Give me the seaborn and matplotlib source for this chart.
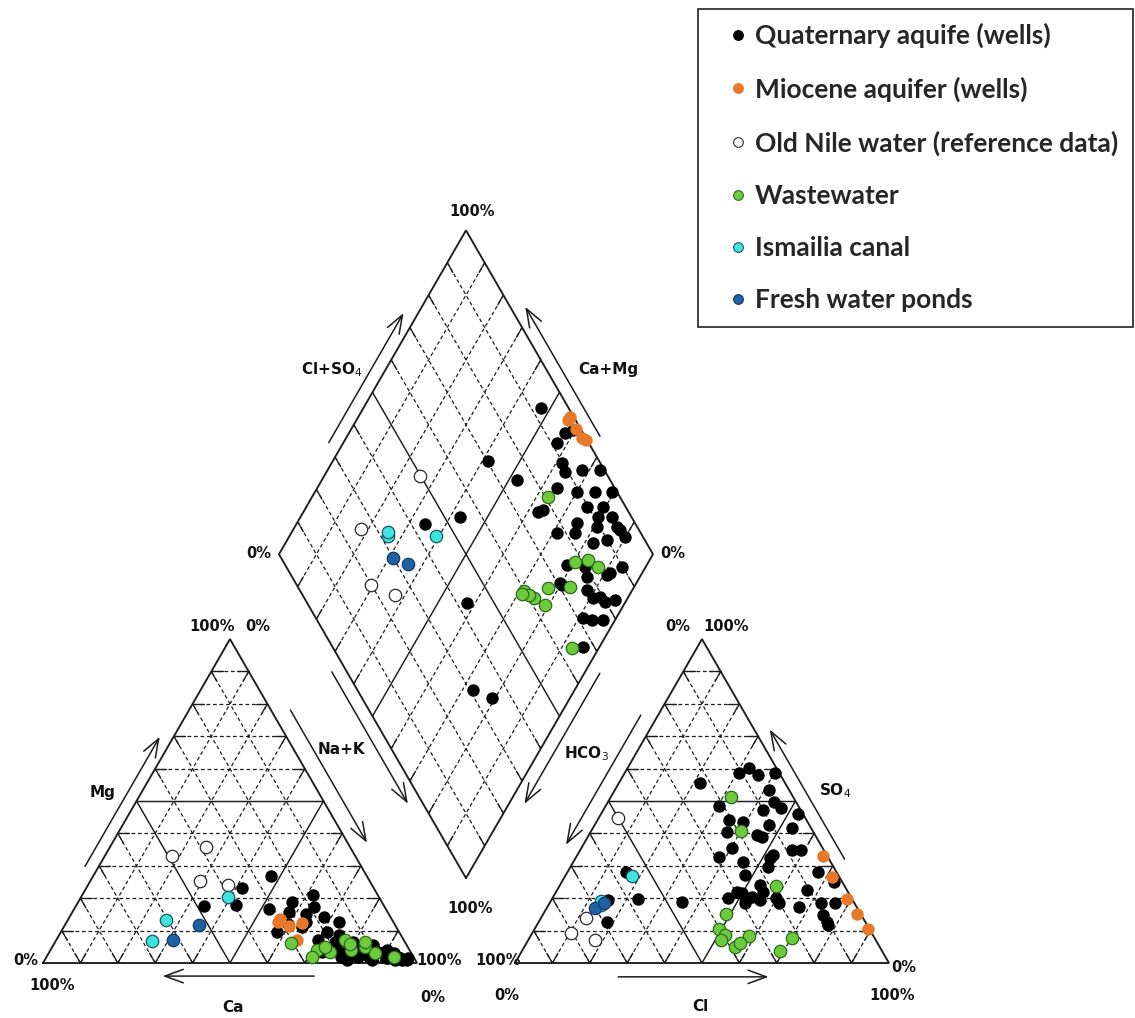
import numpy as np
import pandas as pd
import matplotlib
matplotlib.use("Agg")
import matplotlib.pyplot as plt
from matplotlib.lines import Line2D
from matplotlib.patches import Rectangle
import seaborn as sns

sns.set_theme(style="white")
plt.rcParams["font.family"] = ["DejaVu Sans"]

# ---------------- sample chemistry (meq %) ----------------
# cations: Ca, Mg (Na+K = remainder); anions: SO4, Cl (HCO3 = remainder)
quat_ca = [25.6, 35.3, 31.1, 24.0, 26.5, 28.5, 17.4, 18.9, 17.8, 23.7, 22.8, 18.6, 18.7,
           23.2, 22.1, 25.2, 19.9, 14.6, 16.4, 14.7, 11.8, 16.5, 18.3, 19.2, 19.3, 8.9,
           12.9, 6.1, 19.4, 5.3, 10.1, 7.6, 13.9, 8.7, 4.5, 1.6, 6.8, 5.9, 4.2, 2.3, 3.4,
           39.3, 48.1, 32.6, 14.5, 17.8, 7.1, 17.1, 3.9, 11.6, 13.1]
quat_mg = [26.9, 23.2, 16.7, 18.8, 15.7, 12.0, 21.0, 17.3, 14.2, 3.4, 7.1, 6.5, 1.9,
           12.7, 15.1, 11.0, 5.0, 6.0, 4.0, 2.0, 2.0, 8.6, 0.9, 4.9, 9.6, 5.6,
           4.9, 4.0, 1.9, 1.0, 4.0, 1.5, 6.5, 3.4, 3.1, 1.5, 2.5, 3.0, 2.0, 0.9, 1.0,
           18.0, 17.5, 9.6, 12.7, 3.0, 1.5, 2.5, 1.5, 0.9, 3.1]
quat_so4 = [60.2, 21.9, 27.2, 34.9, 47.9, 25.0, 14.8, 42.6, 49.7, 58.7, 22.5, 58.0, 46.0,
            17.3, 35.5, 55.6, 11.7, 34.9, 18.5, 41.7, 53.4, 39.5, 58.7, 29.6, 24.1, 47.2,
            33.3, 28.1, 19.5, 12.7, 48.5, 32.4, 18.5, 40.4, 44.1, 43.5, 21.9, 21.6, 20.4,
            31.2, 20.0, 18.8, 28.1, 19.8, 12.7, 19.4, 38.9, 32.7, 20.1, 18.5, 18.5]
quat_cl = [32.4, 48.3, 47.9, 56.6, 47.3, 72.8, 74.9, 46.5, 44.3, 40.1, 66.8, 36.1, 52.6,
           67.2, 40.2, 21.8, 77.9, 59.0, 72.5, 53.1, 41.2, 45.0, 30.5, 52.8, 53.5, 42.7,
           52.4, 67.1, 55.8, 77.0, 30.3, 52.1, 52.2, 36.4, 35.1, 39.3, 55.3, 49.8, 53.1,
           45.3, 46.9, 35.3, 15.6, 22.9, 18.2, 15.3, 46.7, 38.2, 59.7, 76.4, 61.3]

mio_ca = [30.8, 30.0, 28.5, 24.6, 28.5]
mio_mg = [12.7, 13.5, 11.5, 12.3, 7.1]
mio_so4 = [33.0, 26.6, 19.8, 15.1, 10.5]
mio_cl = [65.9, 71.5, 78.9, 83.9, 89.1]

nile_ca = [38.5, 49.0, 45.4, 38.5]
nile_mg = [35.8, 33.0, 25.3, 24.1]
nile_so4 = [44.8, 13.9, 9.3, 7.1]
nile_cl = [5.1, 12.0, 10.4, 17.8]

waste_ca = [30.7, 15.7, 11.5, 9.7, 10.6, 15.8, 24.8, 21.5, 15.0, 5.2, 22.0, 27.0]
waste_mg = [6.2, 4.0, 5.0, 3.0, 6.5, 7.0, 4.0, 3.5, 6.0, 2.0, 5.0, 2.0]
waste_so4 = [40.8, 7.7, 23.8, 51.3, 3.7, 8.3, 10.5, 4.9, 6.2, 15.1, 8.6, 7.1]
waste_cl = [39.9, 70.2, 57.9, 32.0, 69.0, 58.4, 49.3, 56.5, 57.1, 48.8, 51.9, 51.6]

canal_ca = [40.3, 60.5, 67.5]
canal_mg = [20.4, 13.3, 6.8]
canal_so4 = [26.9, 17.9, 19.0]
canal_cl = [17.9, 14.0, 13.5]

pond_ca = [61.7, 52.4]
pond_mg = [7.1, 11.7]
pond_so4 = [17.0, 18.5]
pond_cl = [13.0, 14.5]

group_names = ["Quaternary aquife (wells)", "Miocene aquifer (wells)",
               "Old Nile water (reference data)", "Wastewater",
               "Ismailia canal", "Fresh water ponds"]
group_data = [(quat_ca, quat_mg, quat_so4, quat_cl),
              (mio_ca, mio_mg, mio_so4, mio_cl),
              (nile_ca, nile_mg, nile_so4, nile_cl),
              (waste_ca, waste_mg, waste_so4, waste_cl),
              (canal_ca, canal_mg, canal_so4, canal_cl),
              (pond_ca, pond_mg, pond_so4, pond_cl)]
face_colors = ["#000000", "#E8792B", "#FFFFFF", "#6BCB3C", "#3FE3E0", "#1F62A3"]
edge_colors = ["#000000", "#E8792B", "#2A2A2A", "#2F6A1C", "#1C5560", "#123B66"]

# ---------------- Piper geometry ----------------
GAP = 0.262
H = np.sqrt(3) / 2
BOT = np.array([1 + GAP / 2, GAP / 2 * np.sqrt(3)])
U = np.array([-0.5, H])
V = np.array([0.5, H])


def cation_xy(ca, mg):
    ca = np.asarray(ca) / 100
    mg = np.asarray(mg) / 100
    nak = 1 - ca - mg
    return nak + mg / 2, mg * H


def anion_xy(so4, cl):
    so4 = np.asarray(so4) / 100
    cl = np.asarray(cl) / 100
    return 1 + GAP + cl + so4 / 2, so4 * H


def diamond_xy(ca, mg, so4, cl):
    a = (np.asarray(ca) + np.asarray(mg)) / 100
    b = (np.asarray(so4) + np.asarray(cl)) / 100
    p = BOT[:, None] + np.outer(U, a) + np.outer(V, b)
    return p[0], p[1]


frames = []
for name, (ca, mg, so4, cl) in zip(group_names, group_data):
    for x, y in (cation_xy(ca, mg), anion_xy(so4, cl), diamond_xy(ca, mg, so4, cl)):
        frames.append(pd.DataFrame({"x": x, "y": y, "group": name}))
points = pd.concat(frames, ignore_index=True)

fig = plt.figure(figsize=(11.35, 10.18), dpi=100)
ax = fig.add_axes([0, 0, 1, 1])
ax.set_xlim(-43 / 374, (1135 - 43) / 374)
ax.set_ylim(-55 / 374, 963 / 374)
ax.set_aspect("equal")
ax.axis("off")

INK = "#1c1c1c"
TICK = 0.03


def seg(p, q, solid=False):
    p = np.asarray(p, float)
    q = np.asarray(q, float)
    if solid:
        ax.plot([p[0], q[0]], [p[1], q[1]], color=INK, lw=1.05, zorder=1,
                solid_capstyle="butt")
        return
    ax.plot([p[0], q[0]], [p[1], q[1]], color=INK, lw=0.9, ls=(0, (3, 2.2)), zorder=1)
    d = q - p
    t = TICK / np.hypot(*d)
    for a, b in ((p, p + d * t), (q - d * t, q)):
        ax.plot([a[0], b[0]], [a[1], b[1]], color=INK, lw=0.95, zorder=1)


fracs = np.arange(1, 10) / 10


def triangle(ox):
    for f in fracs:
        s = abs(f - 0.5) < 1e-9
        seg((ox + f / 2, f * H), (ox + 1 - f / 2, f * H), s)
        seg((ox + f, 0), (ox + f + (1 - f) / 2, (1 - f) * H), s)
        seg((ox + f, 0), (ox + f / 2, f * H), s)
    xs = [ox, ox + 1, ox + 0.5, ox]
    ys = [0, 0, H, 0]
    ax.plot(xs, ys, color=INK, lw=1.35, zorder=2, solid_joinstyle="miter")


def diamond():
    for f in fracs:
        s = abs(f - 0.5) < 1e-9
        seg(BOT + f * U, BOT + f * U + V, s)
        seg(BOT + f * V, BOT + f * V + U, s)
    pts = np.array([BOT, BOT + U, BOT + U + V, BOT + V, BOT])
    ax.plot(pts[:, 0], pts[:, 1], color=INK, lw=1.35, zorder=2, solid_joinstyle="miter")


triangle(0.0)
triangle(1 + GAP)
diamond()


def edge_arrow(p0, p1, t0, t1, off, center):
    p0 = np.asarray(p0, float)
    p1 = np.asarray(p1, float)
    d = p1 - p0
    n = np.array([-d[1], d[0]]) / np.hypot(*d)
    if np.dot(n, p0 + d / 2 - np.asarray(center)) < 0:
        n = -n
    a = p0 + t0 * d + off * n
    b = p0 + t1 * d + off * n
    ax.annotate("", xy=b, xytext=a,
                arrowprops=dict(arrowstyle="->,head_length=0.6,head_width=0.22",
                                lw=1.1, color=INK, shrinkA=0, shrinkB=0,
                                mutation_scale=22), zorder=2)


cL = (0.5, H / 3)
cR = (1 + GAP + 0.5, H / 3)
cD = BOT + (U + V) / 2
apexL = (0.5, H)
apexR = (1 + GAP + 0.5, H)
edge_arrow((0, 0), apexL, 0.28, 0.68, 0.032, cL)                 # Mg
edge_arrow(apexL, (1, 0), 0.245, 0.655, 0.045, cL)               # Na+K
edge_arrow((1, 0), (0, 0), 0.275, 0.68, 0.035, cL)               # Ca
edge_arrow(apexR, (1 + GAP, 0), 0.258, 0.658, 0.04, cR)          # HCO3
edge_arrow((2 + GAP, 0), apexR, 0.30, 0.70, 0.036, cR)           # SO4
edge_arrow((1 + GAP, 0), (2 + GAP, 0), 0.276, 0.678, 0.037, cR)  # Cl
edge_arrow(BOT + U, BOT + U + V, 0.325, 0.725, 0.034, cD)        # Cl+SO4
edge_arrow(BOT + V, BOT + U + V, 0.344, 0.744, 0.035, cD)        # Ca+Mg
edge_arrow(BOT + U, BOT, 0.343, 0.75, 0.035, cD)
edge_arrow(BOT + V, BOT, 0.347, 0.75, 0.036, cD)

lab = dict(fontsize=11, fontweight="bold", color="#111111", ha="center", va="center")
ax.text(0.160, 0.455, "Mg", **lab)
ax.text(0.799, 0.571, "Na+K", **lab)
ax.text(0.508, -0.120, "Ca", **lab)
ax.text(0.772, 1.586, "Cl+SO$_4$", **lab)
ax.text(1.512, 1.586, "Ca+Mg", **lab)
ax.text(1.454, 0.559, "HCO$_3$", **lab)
ax.text(2.118, 0.461, "SO$_4$", **lab)
ax.text(1.757, -0.117, "Cl", **lab)

pct = dict(fontsize=10.5, fontweight="bold", color="#111111", ha="center", va="center")
for x, y, s in [(0.451, 0.899, "100%"), (0.575, 0.899, "0%"),
                (-0.046, 0.008, "0%"), (0.025, -0.059, "100%"),
                (1.058, 0.008, "100%"), (1.043, -0.091, "0%"),
                (1.697, 0.899, "0%"), (1.826, 0.899, "100%"),
                (1.216, 0.008, "100%"), (1.240, -0.086, "0%"),
                (2.301, -0.013, "0%"), (2.269, -0.086, "100%"),
                (1.146, 2.009, "100%"), (0.578, 1.094, "0%"),
                (1.683, 1.094, "0%"), (1.142, 0.147, "100%")]:
    ax.text(x, y, s, **pct)

for name, fc, ec in zip(group_names, face_colors, edge_colors):
    sub = points[points["group"] == name]
    sns.scatterplot(data=sub, x="x", y="y", ax=ax, color=fc, edgecolor=ec,
                    linewidth=0 if fc == ec else 0.9, s=80, legend=False, zorder=3)

# legend
handles = [Line2D([0], [0], ls="none", marker="o", markersize=7,
                  markerfacecolor=fc, markeredgecolor=ec, markeredgewidth=0.8)
           for fc, ec in zip(face_colors, edge_colors)]
fig.legend(handles, group_names, loc="upper left",
           bbox_to_anchor=(726 / 1135, 1 - 23 / 1018), frameon=False,
           borderpad=0, borderaxespad=0, handlelength=0.9, handletextpad=0.2,
           labelspacing=1.07,
           prop=dict(family="Lato", weight="bold", size=19))
fig.patches.append(Rectangle((698 / 1135, 1 - 327 / 1018), 435 / 1135, 318 / 1018,
                             transform=fig.transFigure, fill=False,
                             edgecolor="#222222", lw=1.2))

fig.savefig("out.png", dpi=100)
